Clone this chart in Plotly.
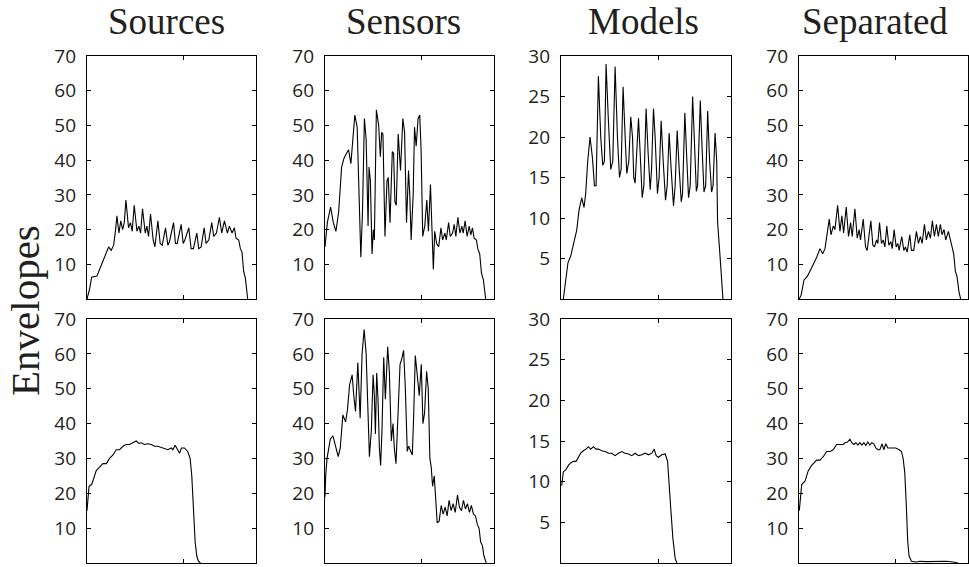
import plotly.graph_objects as go

# Envelope traces: sample position (0-175) and amplitude for each panel.
# Row 1 = first source, row 2 = second source.
sources_1_t = [0, 2.8, 4.8, 10.3, 13, 18.3, 22.4, 25, 27.6, 29.6, 31, 33, 35, 36.9, 38.6, 40.3, 43, 45, 46.8, 48.9,
               51.7, 53.7, 55.5, 57.5, 60.3, 62, 63.7, 65.8, 68.5, 70.3, 73.4, 75.8, 77.9, 81.3, 83.7, 85.4, 89.6,
               91.6, 93.4, 97.5, 99.6, 101.3, 105.4, 107.8, 110.2, 113.7, 115.7, 118.2, 121.3, 123.3, 126.1, 129.2,
               131.2, 134, 137.1, 139.5, 142.3, 145.4, 147.4, 150.2, 152.6, 154.3, 157.1, 158.8, 160.5, 162.2, 164,
               166.4]
sources_1_v = [0, 3, 6.3, 6.6, 8.5, 12, 15, 14, 15.5, 20, 24, 19, 22.5, 20, 22, 28.5, 20.5, 22, 19.5, 27,
               19.5, 21, 19, 26, 19, 21, 18, 24.5, 17, 15, 22.5, 16, 15.5, 20.5, 15.5, 16.5, 22,
               16, 16, 21.5, 16, 17, 20.5, 14.5, 14.5, 19, 14.5, 15, 20.5, 16, 17, 22,
               18, 19, 23.5, 19, 22.5, 19, 21, 19, 20.5, 17.5, 17, 14.5, 13.5, 8, 6,
               0]

sensors_1_t = [0, 2.4, 5.8, 8.6, 11.3, 14.1, 17.2, 19.6, 22.3, 24.4, 26.8, 28.5, 30.9, 33.3, 35, 37.1, 38.8, 40.8,
               42.6, 44.6, 45.6, 47, 48.7, 50.1, 51.1, 53.2, 55.6, 57.3, 58.7, 60, 62.1, 64.2, 65.5, 67.3, 69.7,
               71, 72.4, 73.8, 75.8, 78.2, 80.6, 82.4, 84.4, 86.5, 87.8, 89.2, 91.3, 92.7, 94.4, 96.4, 98.1, 99.5,
               101.2, 103.3, 105.4, 107.1, 109.2, 110.8, 112.2, 113.6, 115.6, 117.7, 120.1, 121.8, 124.2, 125.6,
               128, 129.7, 132.1, 133.8, 135.5, 137.6, 139.7, 141.7, 143.1, 145.1, 147.2, 149.3, 151, 152.7, 154.4,
               156.8, 158.2, 160.2, 162, 164, 166.4]
sensors_1_v = [15, 22, 26.5, 22, 19.5, 25, 38, 40.5, 42, 43, 39, 45, 53, 49.5, 30, 12, 25, 52,
               46, 21, 38, 34, 13, 20, 17, 54.5, 50, 41, 48, 47.5, 18, 34, 35, 22, 42.5,
               42, 28, 27, 47.5, 37, 52, 48, 22, 37, 30, 17, 30, 49.5, 44, 52, 53, 43,
               18, 21, 28.5, 19.5, 33, 20, 8.5, 19.5, 16, 15, 20.5, 17, 19, 17,
               22, 18, 19, 21.5, 18, 23.5, 19, 21, 19, 22.5, 18, 21, 18.5, 20.5, 17.5,
               17, 14.5, 13, 7.5, 5.5, 0]

models_1_t = [2.4, 4.8, 7.2, 10, 12.7, 16.2, 18.6, 21.3, 23.7, 25.4, 27.5, 29.9, 32.3, 34.4, 36.1, 38.5, 40.9, 43,
              44.7, 46.4, 48.8, 51.2, 53.3, 55.7, 58.1, 60.2, 61.9, 63.9, 66.4, 67.7, 69.8, 71.8, 73.6, 74.9, 76.3,
              79.8, 81.5, 83.6, 85.3, 87.6, 89.7, 91.8, 93.2, 95.2, 96.9, 99.3, 101, 103.1, 105.2, 107.6, 109.3,
              111.3, 113.4, 115.8, 117.5, 119.6, 121.7, 123.8, 125.1, 127.5, 129.6, 131.3, 133, 135.5, 137.5,
              139.3, 140.6, 143.4, 145.1, 147.2, 148.9, 151, 153, 155, 156.5, 158.6, 160.3, 161.2, 163.3, 164.7,
              166.7]
models_1_v = [0, 2.5, 4.5, 5.3, 6.8, 8.5, 11, 12.5, 11.3, 13, 17, 20, 17.5, 14, 14, 27.5, 20, 16.5,
              17, 29, 22, 16, 17, 28.7, 20, 15, 16, 26.2, 19, 15.5, 17, 22.5, 20, 15, 14.3,
              22.3, 18, 12.5, 14, 23.5, 18, 13.5, 16, 23.5, 20, 13, 15, 22, 17, 12.2, 14,
              20.5, 16, 11.5, 14, 20.8, 16, 12, 13, 23, 17, 12.5, 14, 25, 19,
              13.3, 14, 24.5, 19, 13.2, 14, 23.2, 17, 13.2, 14, 20.5, 17, 9.5, 6, 3,
              0]

separated_1_t = [0, 2.1, 5.2, 8.6, 13.1, 18.3, 21.7, 24.5, 26.9, 29.3, 31.3, 33.1, 35.5, 37.2, 40, 42.4, 44.4, 46.2,
                 48.9, 51.3, 53.4, 55.1, 57.9, 60.3, 62.3, 63.7, 66.5, 68.9, 70.6, 74.4, 76.5, 78.2, 80.3, 81.6,
                 83.4, 85.4, 87.2, 88.9, 90.9, 93, 95.1, 96.5, 98.5, 100.6, 102.3, 103.7, 106.4, 108.5, 110.2, 112,
                 114.7, 116.4, 118.8, 121.6, 123.7, 125.7, 127.5, 129.9, 131.9, 134, 136.1, 138.1, 140.2, 142.3,
                 144.3, 146.4, 148.1, 150.2, 151.9, 154.7, 156.7, 158.5, 160.2, 161.9, 163.6, 165.7, 167.4]
separated_1_v = [0, 1, 5.5, 6.5, 9, 12, 14.5, 13, 14.5, 19, 23, 18.5, 21, 20, 27, 19.5, 24, 19,
                 26.5, 18, 22, 18, 26, 17.5, 20, 17, 23, 15, 14, 22.5, 15.5, 15, 17, 16,
                 22, 16, 17, 15, 21, 15.5, 16.5, 14.5, 20, 15, 16, 14, 18, 14, 15, 13.5,
                 18.5, 14, 14, 19.5, 16, 18, 16, 21.5, 17, 19.5, 17.5, 22.5, 18, 21.5,
                 18, 21.5, 18.5, 20, 17, 19.5, 17, 15, 13, 8, 6.5, 2, 0]

sources_2_t = [0, 1, 2.1, 4.8, 6.9, 9.6, 13.1, 16.5, 20, 23.4, 26.9, 30.3, 33.8, 37.2, 40.6, 44.1, 47.5, 51, 53.7,
               56.1, 59.6, 63, 66.5, 69.9, 73.4, 76.8, 80.3, 83.7, 87.2, 88.9, 91.3, 93.4, 95.8, 97.8, 100.9, 104.3,
               106.8, 108.5, 110.2, 112, 113.7, 115.4, 117.5]
sources_2_v = [15, 19, 22, 22.5, 24, 26.5, 27.5, 28.5, 28.5, 30, 31, 32.5, 32.5, 33.5, 34, 34, 34.5, 35, 34.3,
               34.5, 34, 34.2, 34, 33.5, 33.5, 33.2, 33, 32.5, 33, 32.5, 33.8, 32.5, 31.5, 33, 33, 32,
               30, 25, 15, 6, 2, 0.5, 0]

sensors_2_t = [0, 0.7, 2.1, 4.1, 5.5, 8.2, 11, 13.7, 15.8, 18.5, 21.3, 23.3, 25.4, 28.1, 29.8, 31.6, 34, 36.4,
               38.4, 40.5, 42.6, 44.6, 46, 48, 49.8, 51.1, 52.2, 53.5, 54.9, 56.3, 57.6, 59, 60.8, 62.5, 64.9,
               66.6, 68.7, 70.4, 71.8, 73.5, 75.2, 77.7, 79.4, 81.4, 83.2, 85.2, 86.6, 88.7, 90.4, 91.8, 93.5,
               95.5, 97.6, 99.7, 101.4, 103.1, 105.2, 106.9, 108.6, 110, 111.4, 113.1, 114.8, 116.2, 118.2,
               120.3, 122.3, 124.4, 126.5, 128.5, 130.6, 132.7, 134.8, 137.2, 139.2, 141.3, 143.4, 145.4, 147.5,
               149.6, 151.6, 153.7, 155.8, 157.8, 159.5, 161.2, 163, 164.6, 167]
sensors_2_v = [19, 25, 30, 33, 35.5, 36.5, 33, 30.5, 33, 42.5, 40.5, 44, 51, 54, 48, 43.5, 57.5, 41.5,
               60, 67, 60, 38, 30.5, 38, 54, 48, 37, 54.5, 47, 33, 28, 38, 59, 47, 62,
               55, 35, 40, 33, 28.5, 40, 57, 58.5, 61, 50, 32, 33.5, 32, 31, 42, 59.5,
               54, 48, 57, 40, 43, 55, 50, 30, 27.5, 22, 25, 17, 11.5, 12,
               16.5, 14, 16, 13.5, 18, 15, 17, 14.5, 19.5, 16, 15, 18, 15.5, 17,
               14.5, 16.5, 14, 13.5, 11, 10, 6, 5, 2, 0]

models_2_t = [0.7, 2.4, 5.2, 7.6, 10, 12.7, 15.5, 17.9, 20.3, 23, 25.8, 28.2, 30.6, 33.3, 36.1, 38.5, 41.9, 45.4,
              48.8, 52.3, 55.7, 59.1, 62.6, 66, 69.4, 72.9, 76.3, 79.8, 83.2, 86.6, 90.1, 93.5, 95.9, 98, 100.4,
              103.8, 107.3, 109.7, 111.4, 113.1, 115.2, 117.6, 119.3]
models_2_v = [9.5, 11.2, 11.5, 12, 12.3, 12.5, 12.5, 13, 13.5, 13.8, 14, 14.3, 14, 14.3, 14, 14, 13.8, 13.7,
              13.5, 13.5, 13.2, 13.5, 13.7, 13.5, 13.4, 13.2, 13.5, 13.2, 13.3, 13.5, 13.3, 13.5, 14, 13.2, 13,
              13.3, 13.4, 12.5, 10, 6.5, 3, 0.5, 0]

separated_2_t = [0.3, 1.7, 2.8, 6.2, 9.6, 13.1, 18.3, 21.7, 25.1, 28.6, 32, 35.5, 38.9, 42.4, 45.8, 47.5, 50.3, 52.7,
                 54.7, 56.8, 58.9, 61, 63, 65.1, 67.2, 69.2, 71.3, 73.4, 75.4, 77.5, 79.6, 81.6, 83.7, 86.1, 87.8,
                 89.9, 92, 94, 96.8, 100.2, 103.7, 106.1, 107.8, 109.5, 111.2, 112.6, 114, 116.4, 121.6, 125,
                 131.9, 138.8, 145.7, 152.6, 159.5, 164.7]
separated_2_v = [15, 20, 22.5, 23.5, 26.5, 28, 29.5, 29.5, 30.5, 32, 32, 32.5, 34, 34, 34, 34.5, 34.7, 35.5,
                 34.5, 34, 34.5, 33.8, 34.5, 33.8, 34.5, 33.7, 34.7, 33.8, 34.5, 34.2, 33, 32.5, 32.5, 34.2, 32.5,
                 34.2, 33, 33, 33, 33, 32.5, 32, 30, 26, 16, 6, 2, 0.5, 0.3, 0.5,
                 0.4, 0.5, 0.4, 0.5, 0.3, 0]

titles = ["Sources", "Sensors", "Models", "Separated"]
y_label = "Envelopes"

panels = [
    [(sources_1_t, sources_1_v), (sensors_1_t, sensors_1_v), (models_1_t, models_1_v), (separated_1_t, separated_1_v)],
    [(sources_2_t, sources_2_v), (sensors_2_t, sensors_2_v), (models_2_t, models_2_v), (separated_2_t, separated_2_v)],
]
y_ranges = [70, 70, 30, 70]
y_ticks = [[10, 20, 30, 40, 50, 60, 70], [10, 20, 30, 40, 50, 60, 70], [5, 10, 15, 20, 25, 30],
           [10, 20, 30, 40, 50, 60, 70]]
x_max = 175
x_ticks = [100]

W, H = 969, 567
col_px = [(87, 256), (325, 494), (561, 731), (799, 968)]
row_px = [(56, 299), (319, 563)]
title_cx = [166, 403, 643, 874.5]

tick_font = dict(family="Open Sans, Liberation Sans, sans-serif", size=19, color="#231f20")
serif = "Liberation Serif, Times New Roman, serif"

fig = go.Figure()
layout = {}
idx = 0
for r in range(2):
    for c in range(4):
        idx += 1
        sfx = "" if idx == 1 else str(idx)
        t, v = panels[r][c]
        fig.add_trace(go.Scatter(x=t, y=v, mode="lines", line=dict(color="black", width=1.1),
                                 xaxis="x" + sfx, yaxis="y" + sfx, showlegend=False, hoverinfo="skip"))
        x0, x1 = col_px[c]
        ytop, ybot = row_px[r]
        common = dict(showline=True, linecolor="black", linewidth=1.3, mirror="ticks",
                      ticks="inside", ticklen=4, tickwidth=1, tickcolor="black",
                      showgrid=False, zeroline=False, automargin=False)
        layout["xaxis" + sfx] = dict(domain=[x0 / W, x1 / W], range=[0, x_max], tickvals=x_ticks,
                                     showticklabels=False, anchor="y" + sfx, **common)
        layout["yaxis" + sfx] = dict(domain=[1 - ybot / H, 1 - ytop / H], range=[0, y_ranges[c]],
                                     tickvals=y_ticks[c], tickfont=tick_font, ticklabelstandoff=6,
                                     anchor="x" + sfx, **common)

annotations = []
for c, name in enumerate(titles):
    annotations.append(dict(text=name, x=title_cx[c] / W, y=1, xref="paper", yref="paper",
                            xanchor="center", yanchor="top", showarrow=False, borderpad=0,
                            font=dict(family=serif, size=37, color="#231f20")))
annotations.append(dict(text=y_label, x=25 / W, y=1 - 311 / H, xref="paper", yref="paper",
                        xanchor="center", yanchor="middle", showarrow=False, textangle=-90,
                        font=dict(family=serif, size=41, color="#231f20")))

fig.update_layout(width=W, height=H, margin=dict(l=0, r=0, t=0, b=0, autoexpand=False),
                  template="none", paper_bgcolor="white", plot_bgcolor="white",
                  annotations=annotations, **layout)
fig.write_html("out.html")
